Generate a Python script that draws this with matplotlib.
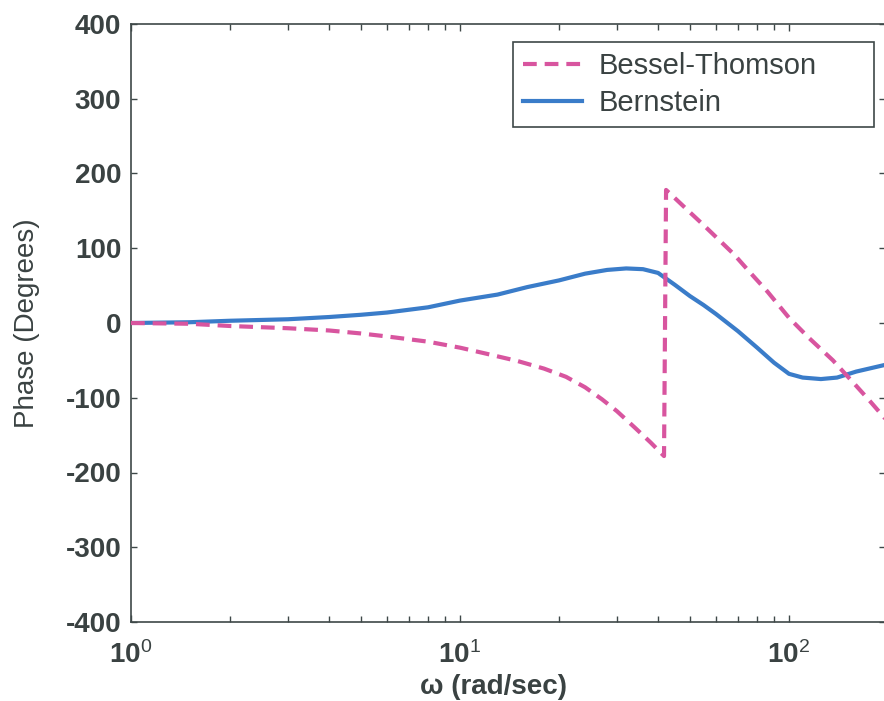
import matplotlib
matplotlib.use("Agg")
import matplotlib.pyplot as plt
from matplotlib.ticker import FixedLocator, NullFormatter

# ---------------- data ----------------
w_bernstein = [1, 1.5, 2, 3, 4, 5, 6, 8, 10, 13, 16, 20, 24, 28, 32, 36, 40, 45, 50,
               55, 60, 70, 80, 90, 100, 110, 125, 140, 160, 196]
phase_bernstein = [0, 1, 3, 5, 8, 11, 14, 21, 30, 38, 48, 57, 66, 71, 73, 72, 67, 51, 36,
                   24, 12, -11, -33, -53, -68, -73, -75, -73, -65, -56]

w_bessel = [1, 1.5, 2, 3, 4, 5, 6, 8, 10, 12, 15, 18, 21, 24, 27, 30, 34, 38, 41.7,
            42.3, 45, 50, 55, 60, 68, 76, 86, 100, 115, 136, 160, 175, 196]
phase_bessel = [0, -1, -4, -7, -10, -14, -18, -25, -33, -41, -51, -61, -72, -86, -102,
                -118, -140, -160, -178,
                178, 167, 148, 131, 115, 92, 68, 42, 7, -20, -50, -84, -103, -128]

series_labels = ["Bessel-Thomson", "Bernstein"]
x_major_ticks = [1, 10, 100]
x_tick_labels = [r"$\mathbf{10}^{0}$", r"$\mathbf{10}^{1}$", r"$\mathbf{10}^{2}$"]
y_ticks = [-400, -300, -200, -100, 0, 100, 200, 300, 400]
x_label = "\u03c9 (rad/sec)"
y_label = "Phase (Degrees)"

# ---------------- style ----------------
plt.rcParams["font.family"] = ["Liberation Sans", "DejaVu Sans"]
plt.rcParams["mathtext.fontset"] = "custom"
plt.rcParams["mathtext.rm"] = "Liberation Sans"
plt.rcParams["mathtext.bf"] = "Liberation Sans:bold"
plt.rcParams["mathtext.it"] = "Liberation Sans:italic"

text_color = "#3a4242"
spine_color = "#3e4848"
pink = "#d8559f"
blue = "#3a7cc9"

W, H = 884, 701
fig = plt.figure(figsize=(W / 100, H / 100), dpi=100)
left, right, top, bottom = 131, 885, 24, 622
aw, ah = right - left, bottom - top
ax = fig.add_axes([left / W, (H - bottom) / H, aw / W, ah / H])

ax.set_xscale("log")
xmax = 10 ** (aw / 329.0)
ax.set_xlim(1, xmax)
ax.set_ylim(-400, 400)

ax.plot(w_bessel, phase_bessel, color=pink, lw=3.0, dashes=(3.3, 1.9),
        label=series_labels[0], zorder=3)
ax.plot(w_bernstein, phase_bernstein, color=blue, lw=3.0,
        label=series_labels[1], zorder=2)

# ticks
ax.xaxis.set_major_locator(FixedLocator(x_major_ticks))
ax.set_xticklabels(x_tick_labels)
minor = [m * d for d in (1, 10, 100) for m in range(2, 10) if m * d < xmax]
ax.xaxis.set_minor_locator(FixedLocator(minor))
ax.xaxis.set_minor_formatter(NullFormatter())
ax.set_yticks(y_ticks)
ax.set_yticklabels([str(v) for v in y_ticks])

ax.tick_params(axis="both", which="both", direction="in", top=True, right=True,
               color=spine_color, width=1.0)
ax.tick_params(axis="x", which="major", length=5, pad=14, labelsize=20,
               labelcolor=text_color)
ax.tick_params(axis="x", which="minor", length=4)
ax.tick_params(axis="y", which="major", length=4, pad=7, labelsize=20,
               labelcolor=text_color)
for lab in ax.get_yticklabels():
    lab.set_fontweight("bold")

for sp in ax.spines.values():
    sp.set_color(spine_color)
    sp.set_linewidth(1.2)

ax.set_ylabel(y_label, fontsize=20, color=text_color)
ax.yaxis.set_label_coords((40 - left) / aw, 0.5)
ax.set_xlabel(x_label, fontsize=20, fontweight="bold", color=text_color)
ax.xaxis.set_label_coords((493 - left) / aw, -(687 - bottom) / ah)
ax.xaxis.label.set_verticalalignment("center")

lx0 = (513 - left) / aw
lx1 = (874 - left) / aw
ly1 = 1 - (42 - top) / ah
ly0 = 1 - (124 - top) / ah
leg = ax.legend(loc="upper left", bbox_to_anchor=(lx0, ly0, lx1 - lx0, ly1 - ly0),
                mode="expand", borderaxespad=0, fontsize=21, handlelength=2.0,
                handletextpad=0.6, labelspacing=0.3, borderpad=0.35, fancybox=False,
                framealpha=1, edgecolor=spine_color)
leg.get_frame().set_linewidth(1.2)
for t in leg.get_texts():
    t.set_color(text_color)

fig.savefig("out.png", dpi=100, facecolor="white")
